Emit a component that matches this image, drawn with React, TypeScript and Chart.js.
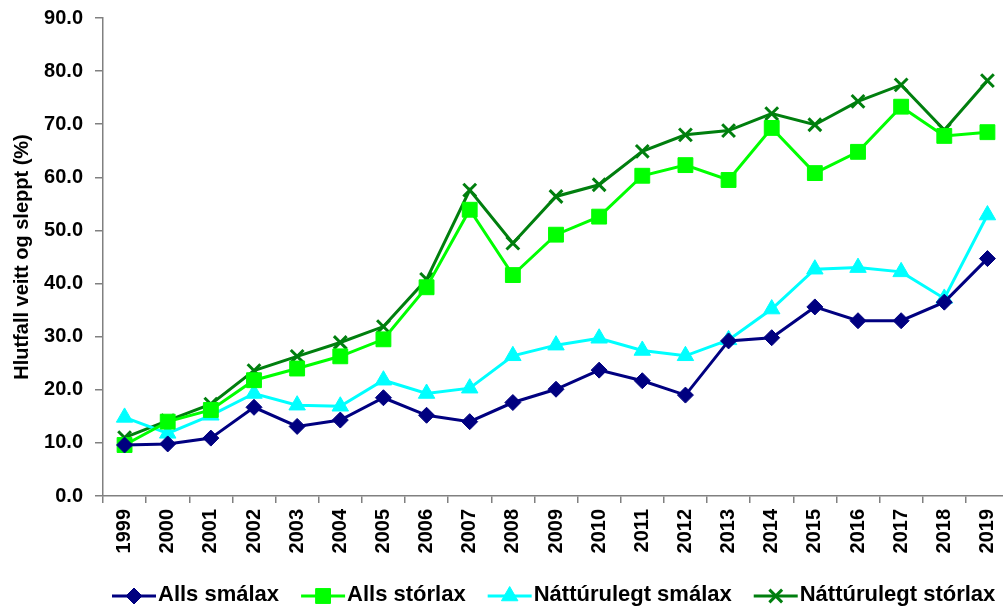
import React, { useEffect, useRef } from "react";
import { Chart, registerables } from "chart.js";

Chart.register(...registerables);

const years = ["1999","2000","2001","2002","2003","2004","2005","2006","2007","2008","2009","2010","2011","2012","2013","2014","2015","2016","2017","2018","2019"];

const allsSmalax = [9.6, 9.8, 10.9, 16.7, 13.1, 14.3, 18.5, 15.2, 14.0, 17.6, 20.1, 23.7, 21.7, 19.0, 29.2, 29.8, 35.6, 33.0, 33.0, 36.5, 44.7];
const allsStorlax = [9.6, 14.0, 16.2, 21.8, 24.0, 26.3, 29.5, 39.3, 53.9, 41.6, 49.2, 52.6, 60.3, 62.3, 59.5, 69.3, 60.8, 64.8, 73.3, 67.8, 68.5];
const natturulegtSmalax = [14.8, 11.8, 15.2, 19.3, 17.1, 16.9, 21.8, 19.3, 20.3, 26.4, 28.4, 29.7, 27.4, 26.4, 29.4, 35.2, 42.7, 43.0, 42.2, 37.2, 52.9];
const natturulegtStorlax = [11.0, 14.2, 17.3, 23.6, 26.3, 28.9, 31.9, 40.8, 57.6, 47.6, 56.4, 58.6, 64.9, 68.0, 68.8, 72.0, 69.9, 74.3, 77.4, 68.9, 78.2];

const seriesNames = ["Alls smálax", "Alls stórlax", "Náttúrulegt smálax", "Náttúrulegt stórlax"];
const yTitle = "Hlutfall veitt og sleppt (%)";

const colors = ["#000080", "#00FF00", "#00FFFF", "#007F0E"];
const styles: any[] = ["rectRot", "rect", "triangle", "crossRot"];
const radii = [8, 10.5, 9.5, 9];

const FONT = "'Liberation Sans', Arial, sans-serif";

const legendPlugin = {
  id: "customLegend",
  afterDraw(chart: any) {
    const ctx = chart.ctx;
    ctx.save();
    ctx.font = `bold 22px ${FONT}`;
    ctx.textBaseline = "middle";
    ctx.textAlign = "left";
    let x = 112;
    const y = 595;
    const lineLen = 44;
    chart.data.datasets.forEach((ds: any) => {
      ctx.strokeStyle = ds.borderColor;
      ctx.lineWidth = 3;
      ctx.beginPath();
      ctx.moveTo(x, y + 1);
      ctx.lineTo(x + lineLen, y + 1);
      ctx.stroke();
      const cx = x + lineLen / 2;
      const cy = y + 1;
      ctx.fillStyle = ds.pointBackgroundColor;
      ctx.strokeStyle = ds.pointBorderColor;
      ctx.lineWidth = ds.pointBorderWidth;
      const r = ds.pointRadius;
      const st = ds.pointStyle;
      ctx.beginPath();
      if (st === "rectRot") {
        ctx.moveTo(cx, cy - r); ctx.lineTo(cx + r, cy); ctx.lineTo(cx, cy + r); ctx.lineTo(cx - r, cy); ctx.closePath();
        ctx.fill(); ctx.stroke();
      } else if (st === "rect") {
        const s = r * Math.SQRT1_2;
        ctx.rect(cx - s, cy - s, 2 * s, 2 * s); ctx.fill(); ctx.stroke();
      } else if (st === "triangle") {
        const h = r;
        ctx.moveTo(cx, cy - h); ctx.lineTo(cx + h * 0.866, cy + h * 0.5); ctx.lineTo(cx - h * 0.866, cy + h * 0.5); ctx.closePath();
        ctx.fill(); ctx.stroke();
      } else {
        const s = r * Math.SQRT1_2;
        ctx.moveTo(cx - s, cy - s); ctx.lineTo(cx + s, cy + s);
        ctx.moveTo(cx + s, cy - s); ctx.lineTo(cx - s, cy + s);
        ctx.stroke();
      }
      ctx.fillStyle = "#000";
      const tx = x + lineLen + 2;
      ctx.fillText(ds.label, tx, y);
      x = tx + ctx.measureText(ds.label).width + 22;
    });
    ctx.restore();
  },
};

export default function App() {
  const ref = useRef<HTMLCanvasElement | null>(null);
  useEffect(() => {
    if (!ref.current) return;
    const values = [allsSmalax, allsStorlax, natturulegtSmalax, natturulegtStorlax];
    const chart = new Chart(ref.current, {
      type: "line",
      data: {
        labels: years,
        datasets: values.map((v, i) => ({
          label: seriesNames[i],
          data: v,
          borderColor: colors[i],
          backgroundColor: colors[i],
          pointBackgroundColor: colors[i],
          pointBorderColor: colors[i],
          pointBorderWidth: styles[i] === "crossRot" ? 3 : 1,
          pointStyle: styles[i],
          pointRadius: radii[i],
          borderWidth: 3,
          tension: 0,
          fill: false,
        })),
      },
      options: {
        animation: false,
        responsive: false,
        layout: { padding: { top: 18, right: 2, left: 0, bottom: 0 } },
        plugins: {
          legend: { display: false },
          tooltip: { enabled: false },
        },
        scales: {
          x: {
            offset: true,
            afterFit: (s: any) => { s.height = 113; },
            grid: {
              offset: true,
              drawOnChartArea: false,
              drawTicks: true,
              tickLength: 7,
              color: "#808080",
              lineWidth: 1.5,
            },
            border: { display: true, color: "#808080", width: 1.5 },
            ticks: {
              minRotation: 90,
              maxRotation: 90,
              autoSkip: false,
              padding: 6,
              color: "#000",
              font: { family: FONT, size: 20, weight: "bold" },
            },
          },
          y: {
            min: 0,
            max: 90,
            afterFit: (s: any) => { s.width = 103; s.paddingTop = 0; s.paddingBottom = 0; },
            grid: {
              drawOnChartArea: false,
              drawTicks: true,
              tickLength: 8,
              color: "#808080",
              lineWidth: 1.5,
            },
            border: { display: true, color: "#808080", width: 1.5 },
            ticks: {
              stepSize: 10,
              padding: 12,
              color: "#000",
              font: { family: FONT, size: 20, weight: "bold" },
              callback: (v: any) => Number(v).toFixed(1),
            },
            title: {
              display: true,
              text: yTitle,
              color: "#000",
              padding: { top: 10, bottom: 0 },
              font: { family: FONT, size: 20, weight: "bold" },
            },
          },
        },
      },
      plugins: [legendPlugin],
    });
    return () => chart.destroy();
  }, []);
  return (
    <div style={{ position: "fixed", left: 0, top: 0, width: 1003, height: 609, overflow: "hidden", background: "#fff" }}>
      <canvas ref={ref} width={1021} height={609} style={{ display: "block" }} />
    </div>
  );
}
